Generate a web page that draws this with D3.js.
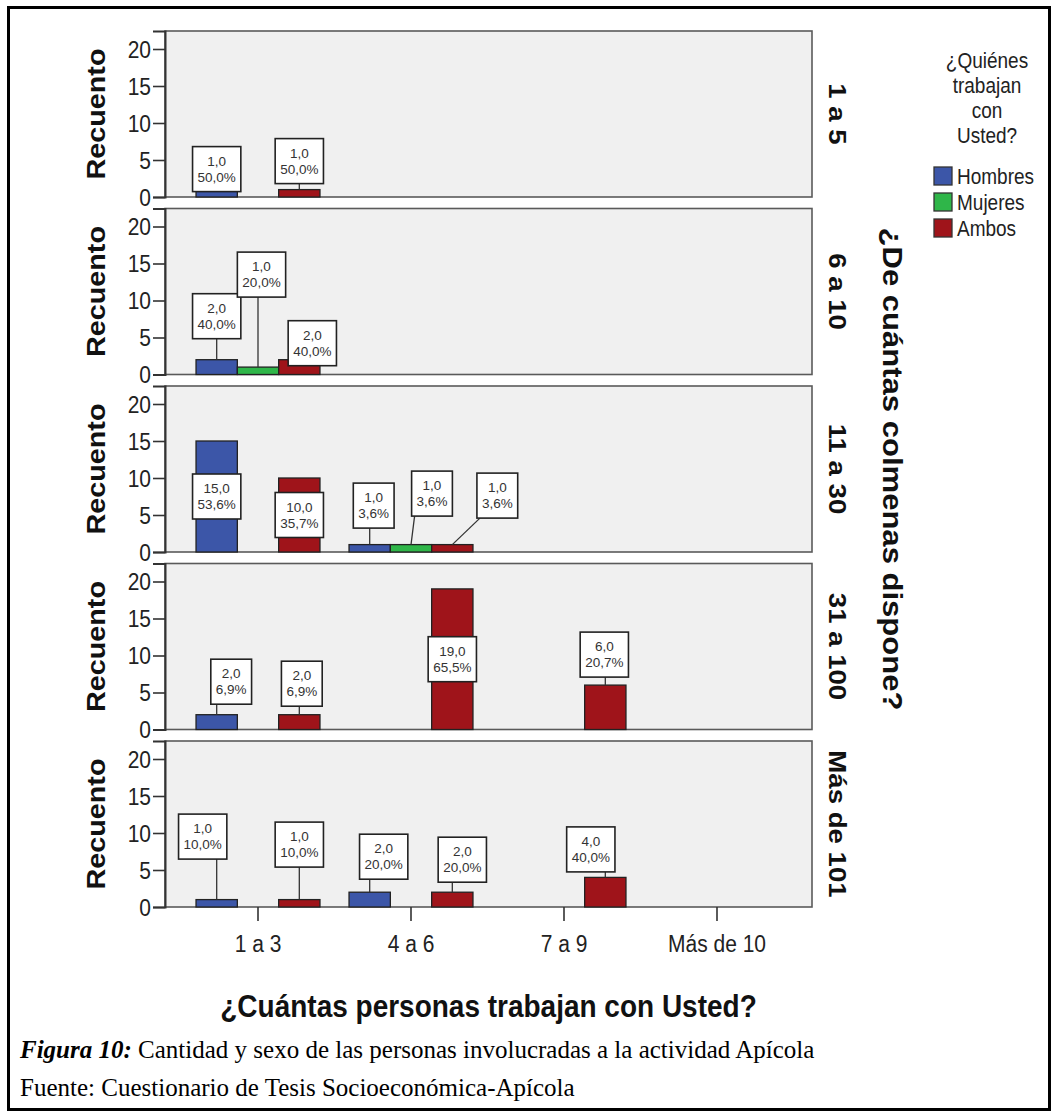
<!DOCTYPE html>
<html><head><meta charset="utf-8">
<script src="https://cdn.jsdelivr.net/npm/d3@7"></script>
<style>body{margin:0;background:#fff}</style>
</head><body><svg id="c" width="1057" height="1117"></svg>
<script>
// ---------- data ----------
const facets = ["1 a 5", "6 a 10", "11 a 30", "31 a 100", "Más de 101"];
const categories = ["1 a 3", "4 a 6", "7 a 9", "Más de 10"];
const series = ["Hombres", "Mujeres", "Ambos"];
// counts: rows = facets, columns = categories
const hombres = [[1,0,0,0],[2,0,0,0],[15,1,0,0],[2,0,0,0],[1,2,0,0]];
const mujeres = [[0,0,0,0],[1,0,0,0],[0,1,0,0],[0,0,0,0],[0,0,0,0]];
const ambos   = [[1,0,0,0],[2,0,0,0],[10,1,0,0],[2,19,6,0],[1,2,4,0]];
const yTicks = [0, 5, 10, 15, 20];
const legendTitle = ["¿Quiénes", "trabajan", "con", "Usted?"];
const xTitle = "¿Cuántas personas trabajan con Usted?";
const yTitle = "Recuento";
const facetTitle = "¿De cuántas colmenas dispone?";
const captionBold = "Figura 10:";
const captionText = " Cantidad y sexo de las personas involucradas a la actividad Apícola";
const sourceText = "Fuente: Cuestionario de Tesis Socioeconómica-Apícola";

// ---------- layout (label placement: [dx, gap above bar] or "in") ----------
const labelPlacement = {
  "0-0-0": [0, -2], "0-0-2": [0, 6],
  "1-0-0": [0, 21], "1-0-1": [3.5, 70], "1-0-2": [13, -6],
  "2-0-0": "in", "2-0-2": "in", "2-1-0": [4, 16.5], "2-1-1": [21, 28.5], "2-1-2": [45, 26.5],
  "3-0-0": [14.5, 10.5], "3-0-2": [2.5, 8.5], "3-1-2": "in", "3-2-2": [-1, 8],
  "4-0-0": [-14, 40.5], "4-0-2": [0, 32.5], "4-1-0": [14, 13], "4-1-2": [10, 10], "4-2-2": [-14.5, 5.5]
};
const colors = {Hombres: "#3C56A8", Mujeres: "#2FB649", Ambos: "#9F141A"};
const S = 1.15; // vertical stretch of chart text
const FONT = "'Liberation Sans', Arial, sans-serif";

const svg = d3.select("#c");
svg.append("rect").attr("x", 8.5).attr("y", 7.5).attr("width", 1041).attr("height", 1102)
  .attr("fill", "#fff").attr("stroke", "#000").attr("stroke-width", 3);

const plotL = 165, plotR = 812, top0 = 31, panelH = 166, step = 177.5, pxPerUnit = 7.4;
const x0 = d3.scaleBand().domain(categories).range([181.5, 793.5]).paddingInner(0.19).paddingOuter(0.095);
const x1 = d3.scaleBand().domain(series).range([0, x0.bandwidth()]);
const y = d3.scaleLinear().domain([0, panelH / pxPerUnit]).range([panelH, 0]);
const fmt = v => d3.format(".1f")(v).replace(".", ",");
const seriesData = [hombres, mujeres, ambos];

facets.forEach((f, i) => {
  const top = top0 + i * step;
  const g = svg.append("g").attr("transform", `translate(0,${top})`);
  g.append("rect").attr("x", plotL).attr("y", 0).attr("width", plotR - plotL).attr("height", panelH)
    .attr("fill", "#F0F0F0").attr("stroke", "#5a5a5a").attr("stroke-width", 1.6);

  const ax = g.append("g").attr("transform", `translate(${plotL},0)`)
    .call(d3.axisLeft(y).tickValues(yTicks).tickSize(12).tickPadding(2).tickFormat(d3.format("d")));
  ax.select(".domain").attr("stroke", "#333").attr("stroke-width", 2);
  ax.selectAll(".tick line").attr("stroke", "#333").attr("stroke-width", 1.6);
  ax.selectAll(".tick text").attr("font-family", FONT).attr("font-size", 21).attr("fill", "#222")
    .attr("dy", "0.35em").attr("transform", `scale(1,${S})`);

  const total = d3.sum(seriesData, sd => d3.sum(sd[i]));
  const bars = [];
  categories.forEach((c, ci) => series.forEach((s, si) => {
    const v = seriesData[si][i][ci];
    if (v > 0) bars.push({c, ci, s, si, v});
  }));

  g.selectAll("rect.bar").data(bars).join("rect").attr("class", "bar")
    .attr("x", d => x0(d.c) + x1(d.s)).attr("y", d => y(d.v))
    .attr("width", x1.bandwidth()).attr("height", d => panelH - y(d.v))
    .attr("fill", d => colors[d.s]).attr("stroke", "#222").attr("stroke-width", 1.3);

  bars.forEach(d => {
    const key = `${i}-${d.ci}-${d.si}`;
    const place = labelPlacement[key] || [0, 6];
    const bx = x0(d.c) + x1(d.s) + x1.bandwidth() / 2;
    const lines = [fmt(d.v), fmt(d.v / total * 100) + "%"];
    const lg = g.append("g");
    const box = lg.append("rect");
    const texts = lines.map(t => lg.append("text").text(t).attr("font-family", FONT)
      .attr("font-size", 13.5).attr("fill", "#333").attr("text-anchor", "middle"));
    const w = d3.max(texts, t => t.node().getComputedTextLength()) + 10;
    const h = 45;
    let cx, cy;
    if (place === "in") { cx = bx; cy = (y(d.v) + panelH) / 2; }
    else { cx = bx + place[0]; cy = y(d.v) - place[1] - h / 2; }
    if (place !== "in" && place[1] > 1) {
      const sx = Math.max(cx - w / 2 + 3, Math.min(cx + w / 2 - 3, bx));
      lg.insert("line", "rect").attr("x1", sx).attr("y1", cy + h / 2).attr("x2", bx).attr("y2", y(d.v))
        .attr("stroke", "#333").attr("stroke-width", 1.3);
    }
    box.attr("x", cx - w / 2).attr("y", cy - h / 2).attr("width", w).attr("height", h)
      .attr("fill", "#fff").attr("stroke", "#222").attr("stroke-width", 1.6);
    texts.forEach((t, k) => t.attr("dy", "0.35em")
      .attr("transform", `translate(${cx},${cy + (k === 0 ? -8 : 8)})`));
  });

  g.append("text").text(yTitle).attr("font-family", FONT).attr("font-weight", "bold").attr("font-size", 25)
    .attr("fill", "#111").attr("text-anchor", "middle").attr("dy", "0.35em")
    .attr("transform", `translate(96,${panelH / 2}) scale(1,${S}) rotate(-90)`);
  g.append("text").text(f).attr("font-family", FONT).attr("font-weight", "bold").attr("font-size", 24)
    .attr("fill", "#111").attr("text-anchor", "middle").attr("dy", "0.35em")
    .attr("transform", `translate(837,${panelH / 2}) scale(1,${S}) rotate(90)`);
});

// x axis
const axisY = top0 + (facets.length - 1) * step + panelH;
const xa = svg.append("g").attr("transform", `translate(0,${axisY})`)
  .call(d3.axisBottom(x0).tickSize(14).tickSizeOuter(0));
xa.select(".domain").remove();
xa.selectAll(".tick line").attr("stroke", "#333").attr("stroke-width", 1.6);
xa.selectAll(".tick text").attr("font-family", FONT).attr("font-size", 21).attr("fill", "#222")
  .attr("y", 45 / S).attr("dy", 0).attr("transform", `scale(1,${S})`);

svg.append("text").text(xTitle).attr("font-family", FONT).attr("font-weight", "bold").attr("font-size", 28)
  .attr("fill", "#111").attr("text-anchor", "middle")
  .attr("transform", `translate(${(plotL + plotR) / 2},1017) scale(1,${S})`);

svg.append("text").text(facetTitle).attr("font-family", FONT).attr("font-weight", "bold").attr("font-size", 27)
  .attr("fill", "#111").attr("text-anchor", "middle").attr("dy", "0.35em")
  .attr("transform", `translate(892,${top0 + ((facets.length - 1) * step + panelH) / 2}) scale(1,${S}) rotate(90)`);

// legend
legendTitle.forEach((t, k) => svg.append("text").text(t).attr("font-family", FONT).attr("font-size", 19)
  .attr("fill", "#222").attr("text-anchor", "middle").attr("dy", "0.35em")
  .attr("transform", `translate(987,${60 + k * 25}) scale(1,${S})`));
series.forEach((s, k) => {
  const yy = 167 + k * 26;
  svg.append("rect").attr("x", 934).attr("y", yy).attr("width", 18).attr("height", 18)
    .attr("fill", colors[s]).attr("stroke", "#333").attr("stroke-width", 1.3);
  svg.append("text").text(s).attr("font-family", FONT).attr("font-size", 19).attr("fill", "#222")
    .attr("dy", "0.35em").attr("transform", `translate(957,${yy + 9}) scale(1,${S})`);
});

// caption
const cap = svg.append("text").attr("x", 20).attr("y", 1058).attr("font-family", "'Liberation Serif', 'Times New Roman', serif")
  .attr("font-size", 25).attr("fill", "#000");
cap.append("tspan").text(captionBold).attr("font-weight", "bold").attr("font-style", "italic");
cap.append("tspan").text(captionText);
svg.append("text").text(sourceText).attr("x", 20).attr("y", 1096)
  .attr("font-family", "'Liberation Serif', 'Times New Roman', serif").attr("font-size", 25).attr("fill", "#000");
</script></body></html>
